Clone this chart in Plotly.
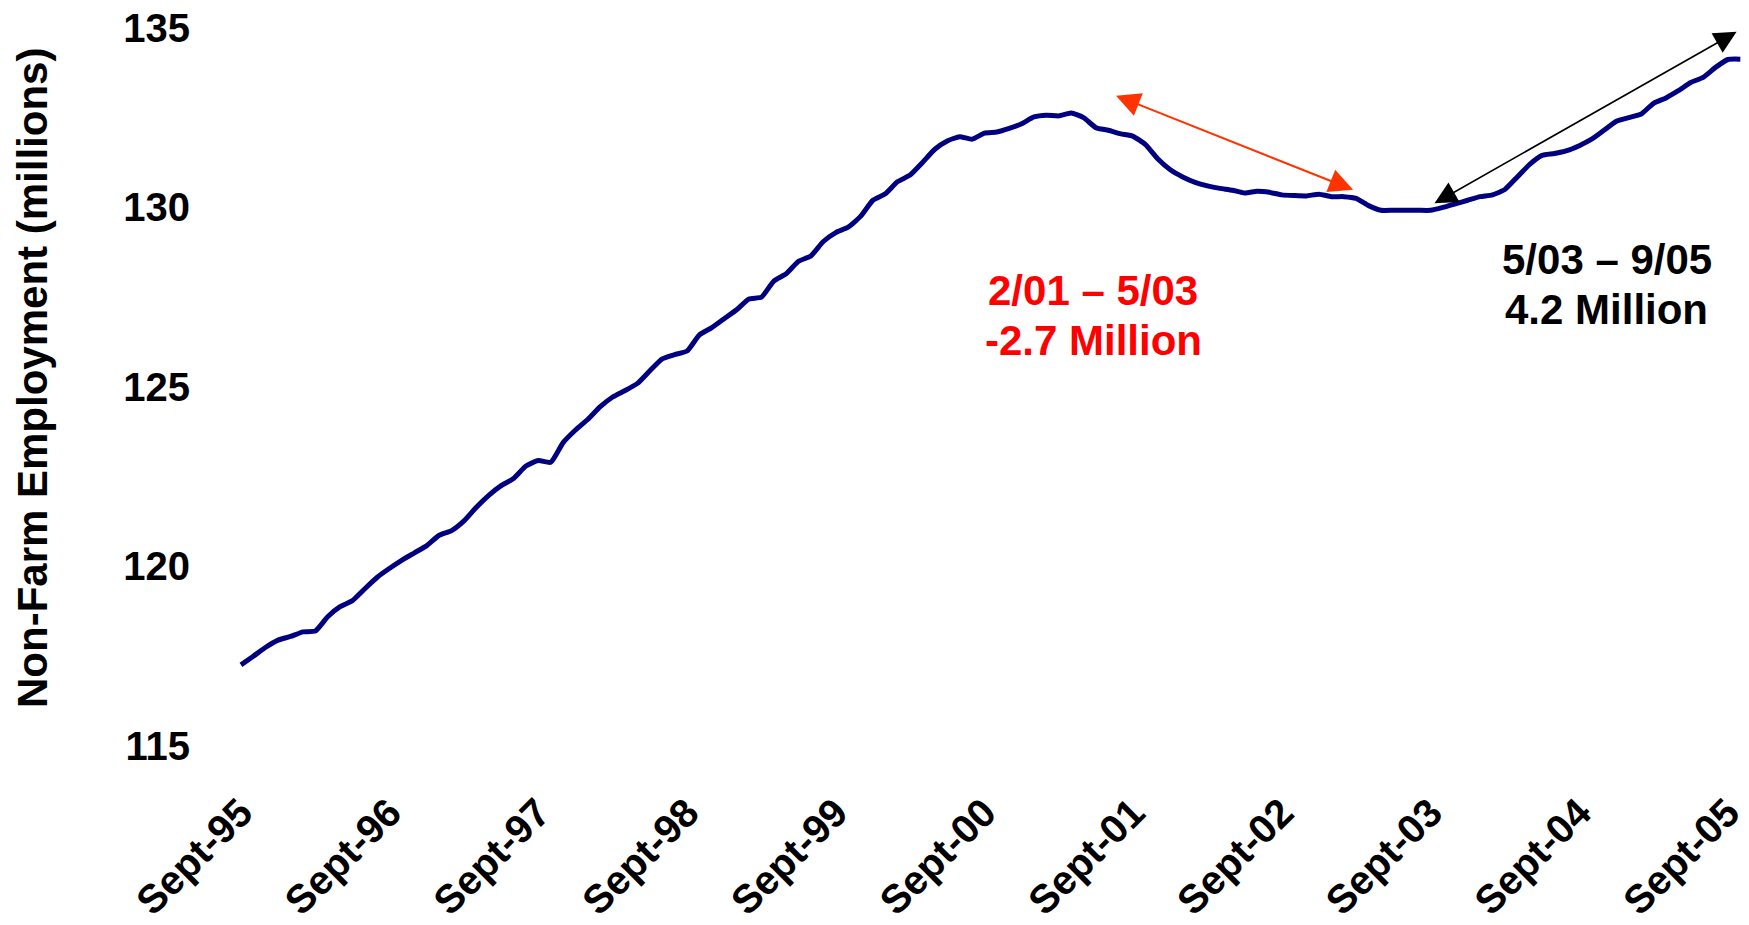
import pandas as pd
import plotly.graph_objects as go

# Monthly non-farm employment (millions), Sept 1995 onward
employment = [
    117.26, 117.50, 117.75, 117.95, 118.05, 118.18, 118.20, 118.60, 118.88, 119.05,
    119.38, 119.70, 119.95, 120.18, 120.38, 120.58, 120.87, 121.00, 121.27, 121.65,
    121.98, 122.25, 122.45, 122.80, 122.95, 122.90, 123.45, 123.80, 124.10, 124.45,
    124.72, 124.90, 125.10, 125.45, 125.78, 125.90, 126.00, 126.45, 126.65, 126.90,
    127.15, 127.45, 127.50, 127.95, 128.15, 128.50, 128.65, 129.05, 129.30, 129.45,
    129.75, 130.20, 130.38, 130.72, 130.90, 131.25, 131.62, 131.85, 131.97, 131.90,
    132.07, 132.10, 132.20, 132.33, 132.52, 132.57, 132.55, 132.63, 132.50, 132.22,
    132.15, 132.05, 131.98, 131.75, 131.35, 131.05, 130.85, 130.70, 130.60, 130.53,
    130.48, 130.40, 130.45, 130.42, 130.35, 130.33, 130.32, 130.37, 130.30, 130.30,
    130.25, 130.05, 129.92, 129.92, 129.92, 129.92, 129.92, 130.00, 130.10, 130.20,
    130.30, 130.35, 130.50, 130.85, 131.20, 131.45, 131.50, 131.58, 131.72, 131.90,
    132.15, 132.40, 132.50, 132.60, 132.90, 133.05, 133.25, 133.48, 133.62, 133.90,
    134.12, 134.13,
]
months = [d.strftime("%Y-%m") for d in pd.date_range("1995-09-01", periods=len(employment), freq="MS")]

tick_months = [m for m in months if m.endswith("-09")]
tick_labels = ["Sept-" + m[2:4] for m in tick_months]
y_ticks = [115, 120, 125, 130, 135]

FONT = "Liberation Sans, Arial, sans-serif"

fig = go.Figure()
fig.add_trace(go.Scatter(
    x=months, y=employment, mode="lines",
    line=dict(color="#000080", width=5, shape="spline", smoothing=0.5),
    showlegend=False, hoverinfo="skip",
))

fig.update_layout(
    width=1749, height=925,
    margin=dict(l=205, r=0, t=0, b=145, autoexpand=False),
    paper_bgcolor="white", plot_bgcolor="white",
    font=dict(family=FONT, color="black"),
    xaxis=dict(
        type="category", range=[-2.9, 121.7], automargin=False,
        tickmode="array", tickvals=tick_months, ticktext=tick_labels,
        tickangle=-45, tickfont=dict(size=40, family=FONT, weight="bold"),
        showgrid=False, zeroline=False, showline=False, ticks="",
    ),
    yaxis=dict(
        range=[114.053, 135.777], automargin=False,
        tickmode="array", tickvals=y_ticks,
        tickfont=dict(size=40, family=FONT, weight="bold"),
        ticklabelstandoff=14,
        showgrid=False, zeroline=False, showline=False, ticks="",
    ),
)

# y-axis title
fig.add_annotation(
    xref="paper", yref="paper", x=-0.1114, y=0.5154,
    text="Non-Farm Employment (millions)", textangle=-90, showarrow=False,
    xanchor="center", yanchor="middle",
    font=dict(size=42, family=FONT, weight="bold", color="black"),
)

# Arrows
fig.add_annotation(
    xref="x", yref="y", axref="x", ayref="y",
    x=89.75, y=130.49, ax=70.5, ay=133.13, text="",
    showarrow=True, arrowside="end+start", arrowhead=2, arrowsize=2.4,
    arrowwidth=2, arrowcolor="#FF3300",
)
fig.add_annotation(
    xref="x", yref="y", axref="x", ayref="y",
    x=120.7, y=134.89, ax=96.2, ay=130.09, text="",
    showarrow=True, arrowside="end+start", arrowhead=2, arrowsize=2.8,
    arrowwidth=1.6, arrowcolor="black",
)

# Text labels
labels = [
    (68.8, 127.68, "2/01 \u2013 5/03", "#FF0000"),
    (68.8, 126.28, "-2.7 Million", "#FF0000"),
    (110.2, 128.54, "5/03 \u2013 9/05", "black"),
    (110.2, 127.17, "4.2 Million", "black"),
]
for lx, ly, txt, col in labels:
    fig.add_annotation(
        xref="x", yref="y", x=lx, y=ly, text=txt, showarrow=False,
        xanchor="center", yanchor="middle",
        font=dict(size=42, family=FONT, weight="bold", color=col),
    )

fig.write_html("out.html")
